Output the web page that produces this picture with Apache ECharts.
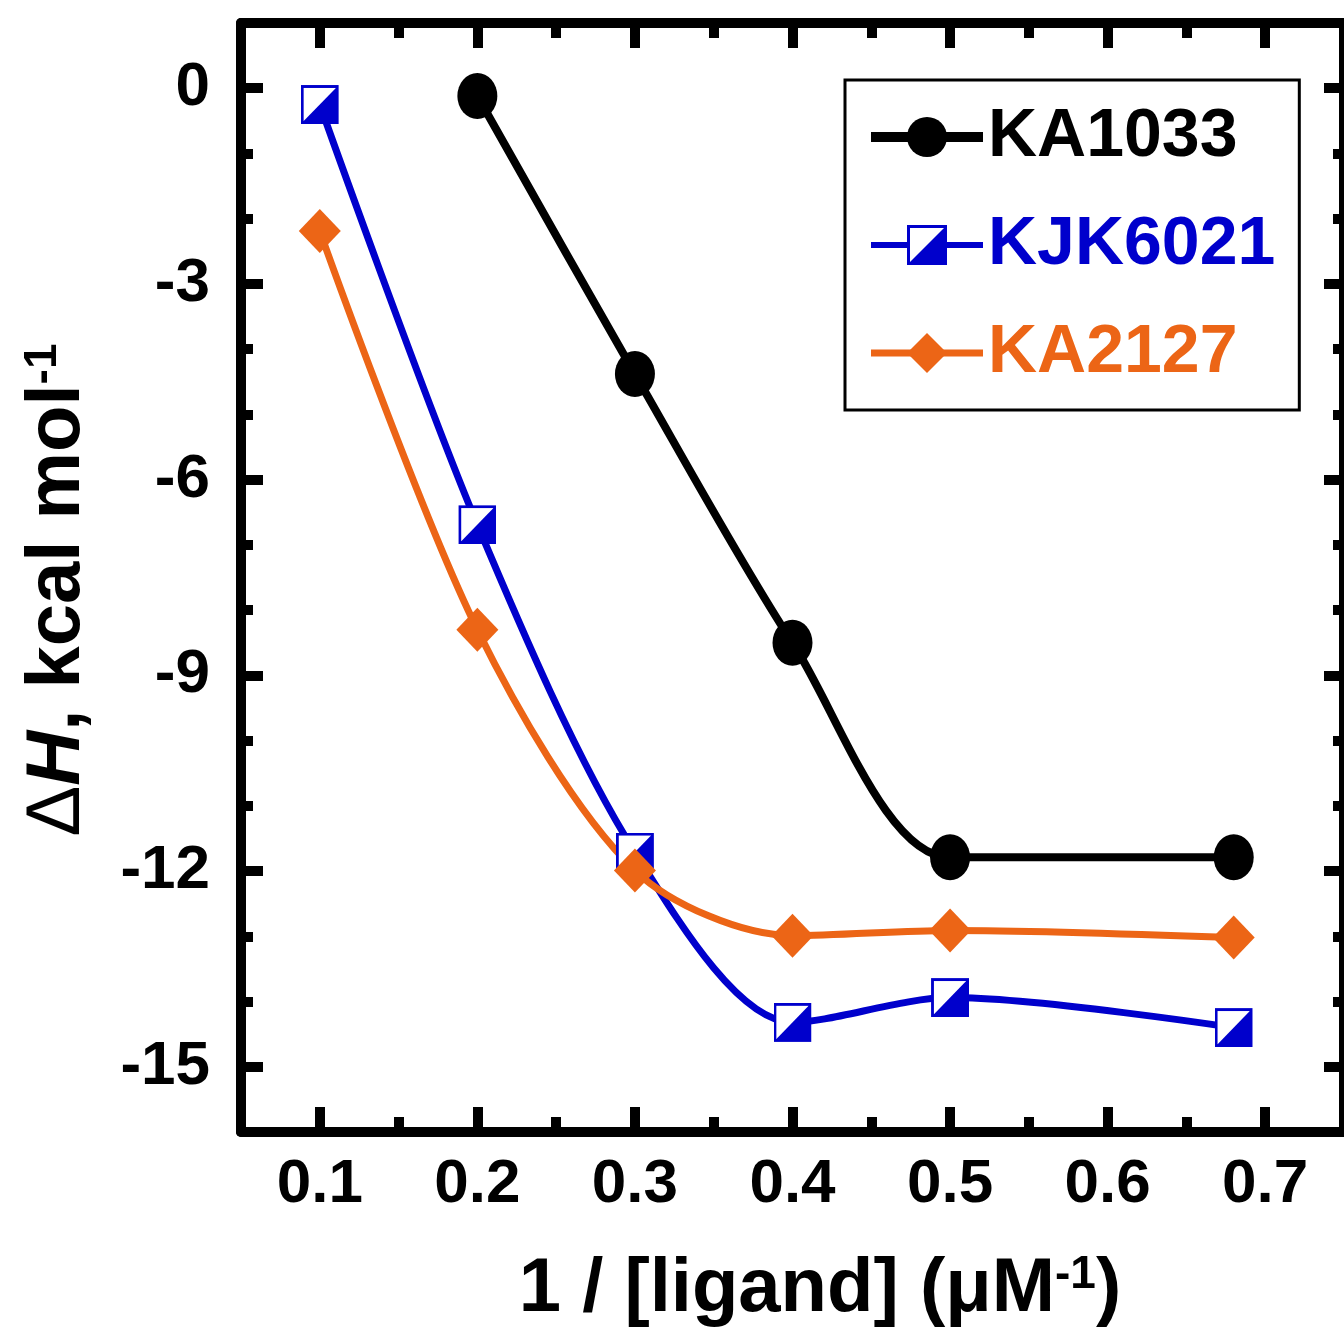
<!DOCTYPE html>
<html>
<head>
<meta charset="utf-8">
<script src="https://cdn.jsdelivr.net/npm/echarts@6/dist/echarts.min.js"></script>
<style>
  html, body { margin: 0; padding: 0; background: #fff; }
  #chart { width: 1344px; height: 1332px; }
</style>
</head>
<body>
<div id="chart"></div>
<script>
// data
const xAll = [0.1, 0.2, 0.3, 0.4, 0.5, 0.68];
const xKA1033 = [0.2, 0.3, 0.4, 0.5, 0.68];
const ka1033 = [-0.12, -4.38, -8.50, -11.79, -11.79];
const kjk6021 = [-0.25, -6.69, -11.71, -14.32, -13.94, -14.40];
const ka2127 = [-2.19, -8.30, -11.99, -12.99, -12.91, -13.02];

const xTicks = [0.1, 0.2, 0.3, 0.4, 0.5, 0.6, 0.7];
const xMinorTicks = [0.15, 0.25, 0.35, 0.45, 0.55, 0.65];
const yTicks = [0, -3, -6, -9, -12, -15];
const yMinorTicks = [1, -1, -2, -4, -5, -7, -8, -10, -11, -13, -14, -16];

const FONT = '"Liberation Sans", Arial, sans-serif';
const BLUE = '#0000CC';
const ORANGE = '#EC6516';

const halfSquare = 'image://data:image/svg+xml;charset=utf-8,' + encodeURIComponent(
  '<svg xmlns="http://www.w3.org/2000/svg" width="40" height="40" viewBox="0 0 40 40">' +
  '<rect x="1.5" y="1.5" width="37" height="37" fill="#fff" stroke="' + BLUE + '" stroke-width="3"/>' +
  '<polygon points="1.5,38.5 38.5,1.5 38.5,38.5" fill="' + BLUE + '"/></svg>'
);

const pairs = (xs, ys) => xs.map((x, i) => [x, ys[i]]);

// one axis for major ticks (+labels), one for minor ticks
function xAx(pos, ticks, len, labels, line) {
  return {
    type: 'value', position: pos, min: 0.05, max: 0.75,
    axisLine: { show: line, onZero: false, lineStyle: { color: '#000', width: 10 } },
    axisTick: { show: true, inside: true, length: len, customValues: ticks, lineStyle: { color: '#000', width: 10 } },
    axisLabel: {
      show: labels, customValues: ticks, margin: 22,
      formatter: v => v.toFixed(1),
      color: '#000', fontSize: 62, fontWeight: 'bold', fontFamily: FONT
    },
    splitLine: { show: false }
  };
}
function yAx(pos, ticks, len, labels, line) {
  return {
    type: 'value', position: pos, min: -16, max: 1,
    axisLine: { show: line, onZero: false, lineStyle: { color: '#000', width: 10 } },
    axisTick: { show: true, inside: true, length: len, customValues: ticks, lineStyle: { color: '#000', width: 10 } },
    axisLabel: {
      show: labels, customValues: ticks, margin: 31,
      formatter: v => String(v),
      color: '#000', fontSize: 62, fontWeight: 'bold', fontFamily: FONT
    },
    splitLine: { show: false }
  };
}

const chart = echarts.init(document.getElementById('chart'));
const option = {
  animation: false,
  backgroundColor: '#fff',
  grid: { left: 241, right: 0, top: 23, bottom: 200 },
  xAxis: [
    xAx('bottom', xTicks, 25, true, true),
    xAx('bottom', xMinorTicks, 15, false, false),
    xAx('top', xTicks, 25, false, true),
    xAx('top', xMinorTicks, 15, false, false)
  ],
  yAxis: [
    yAx('left', yTicks, 22, true, true),
    yAx('left', yMinorTicks, 12, false, false),
    yAx('right', yTicks, 20, false, true),
    yAx('right', yMinorTicks, 11, false, false)
  ],
  legend: {
    orient: 'vertical',
    left: 845, top: 80,
    padding: [22, 24, 22, 21],
    itemGap: 38,
    itemWidth: 112,
    itemHeight: 50,
    borderColor: '#000',
    borderWidth: 3,
    backgroundColor: '#fff',
    textStyle: { fontSize: 68, fontWeight: 'bold', fontFamily: FONT, lineHeight: 70 },
    data: [
      { name: 'KA1033', textStyle: { color: '#000' }, lineStyle: { width: 10 } },
      { name: 'KJK6021', textStyle: { color: BLUE }, lineStyle: { width: 6 } },
      { name: 'KA2127', textStyle: { color: ORANGE }, lineStyle: { width: 7 } }
    ]
  },
  graphic: [
    {
      type: 'text', x: 820, y: 1290,
      style: {
        text: '1 / [ligand] (μM{s|-1})',
        font: 'bold 76px ' + FONT, fill: '#000',
        align: 'center', verticalAlign: 'middle',
        rich: { s: { fontSize: 46, fontWeight: 'bold', fontFamily: FONT, verticalAlign: 'top' } }
      }
    },
    {
      type: 'text', x: 58, y: 590, rotation: Math.PI / 2,
      style: {
        text: '{d|Δ}{i|H}, kcal mol{s|-1}',
        font: 'bold 76px ' + FONT, fill: '#000',
        align: 'center', verticalAlign: 'middle',
        rich: {
          d: { fontSize: 76, fontWeight: 'normal', fontFamily: FONT },
          i: { fontSize: 76, fontWeight: 'bold', fontStyle: 'italic', fontFamily: FONT },
          s: { fontSize: 46, fontWeight: 'bold', fontFamily: FONT, verticalAlign: 'top' }
        }
      }
    }
  ],
  series: [
    {
      name: 'KA1033', type: 'line', smooth: 0.3,
      data: pairs(xKA1033, ka1033),
      symbol: 'circle', symbolSize: [40, 46],
      lineStyle: { color: '#000', width: 8 },
      itemStyle: { color: '#000' }
    },
    {
      name: 'KJK6021', type: 'line', smooth: 0.3,
      data: pairs(xAll, kjk6021),
      symbol: halfSquare, symbolSize: [38, 39],
      lineStyle: { color: BLUE, width: 7 },
      itemStyle: { color: BLUE }
    },
    {
      name: 'KA2127', type: 'line', smooth: 0.3,
      data: pairs(xAll, ka2127),
      symbol: 'diamond', symbolSize: [42, 44],
      lineStyle: { color: ORANGE, width: 7 },
      itemStyle: { color: ORANGE }
    }
  ]
};
chart.setOption(option);
</script>
</body>
</html>
